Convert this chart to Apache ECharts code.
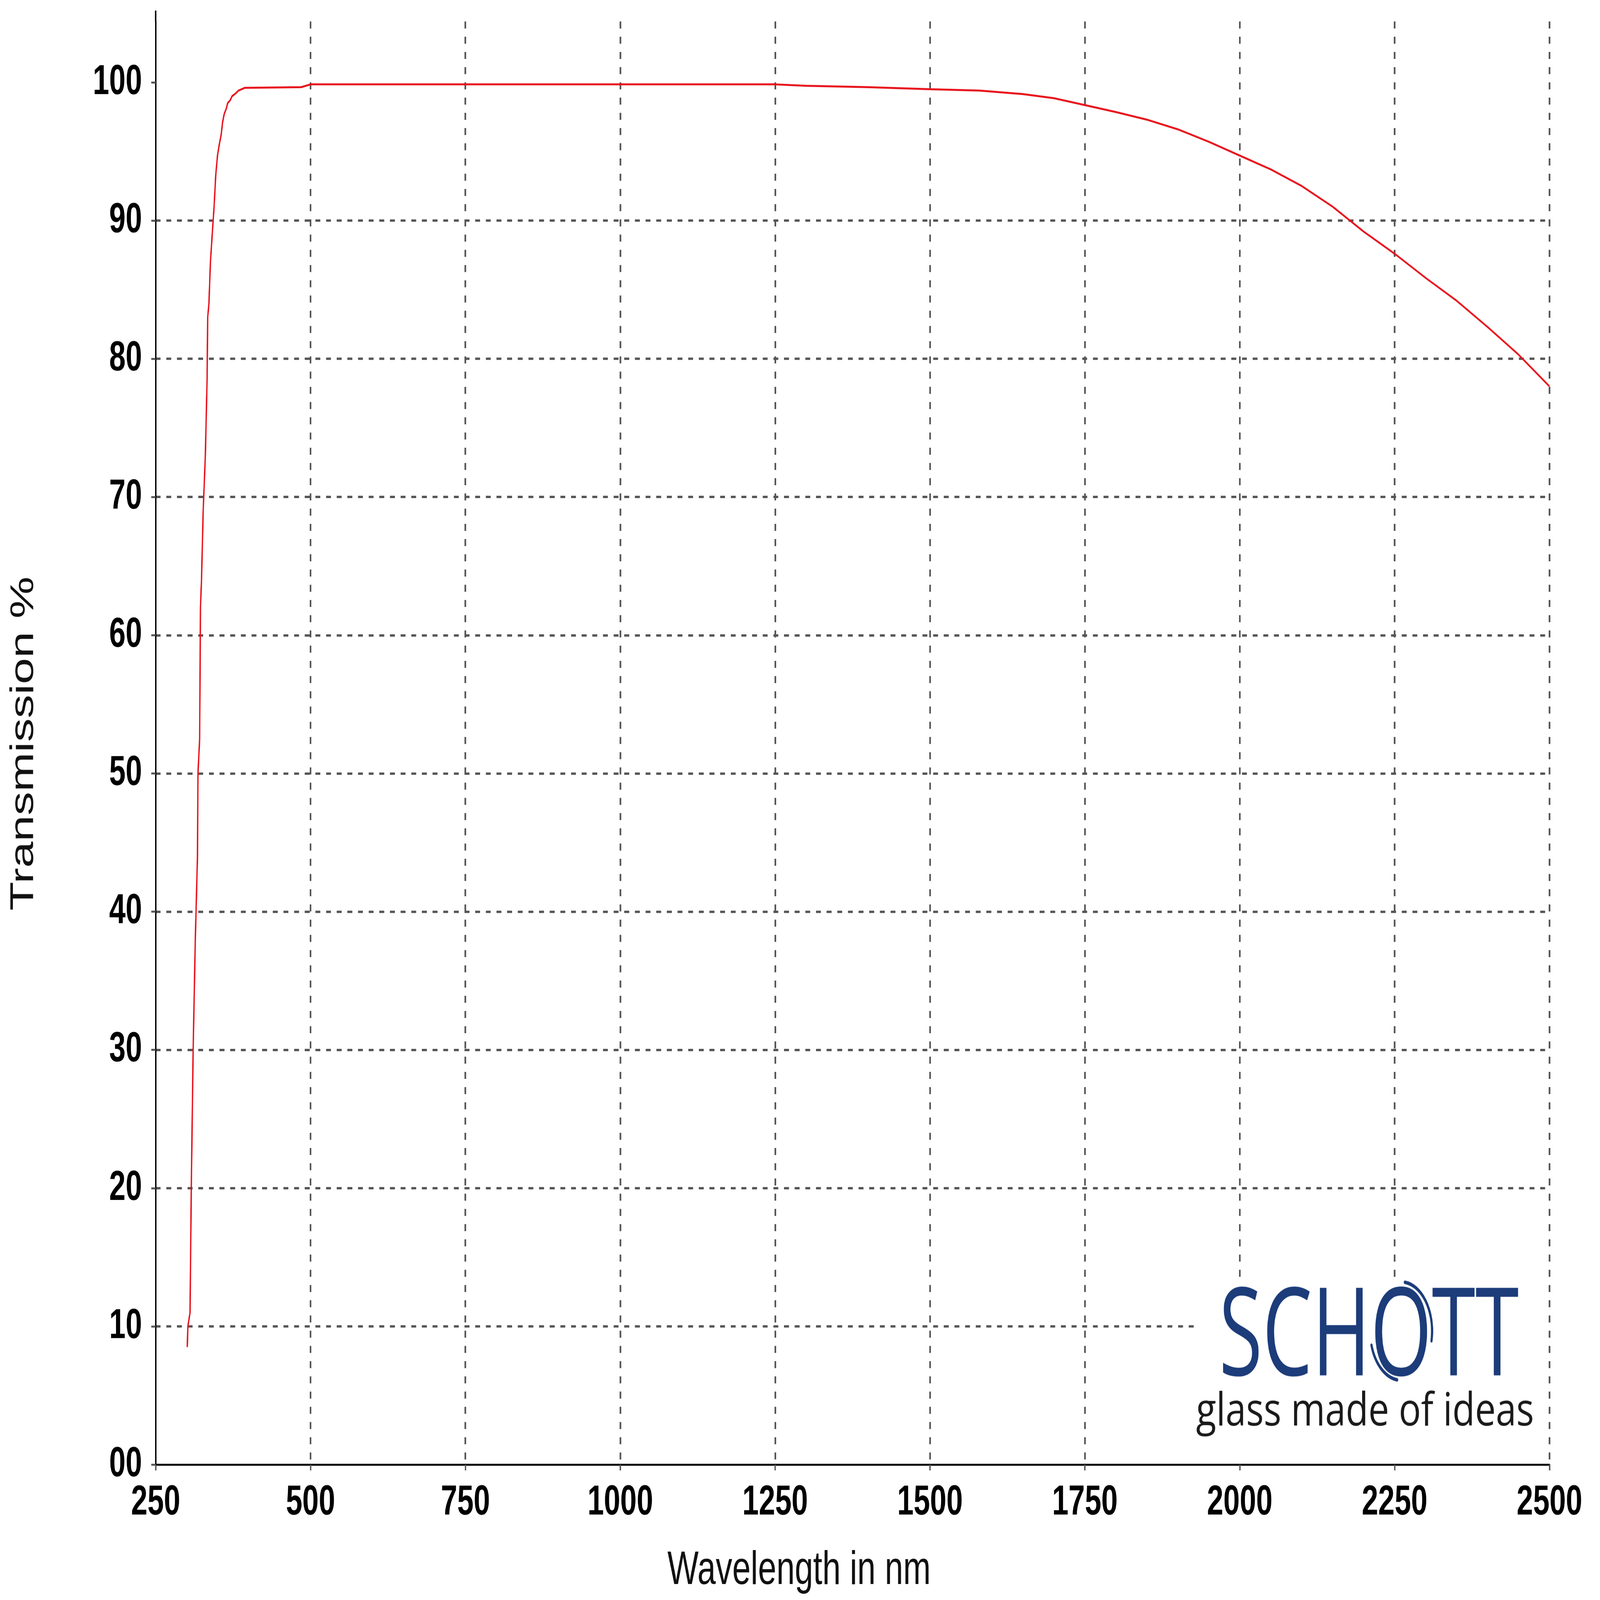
<!DOCTYPE html>
<html>
<head>
<meta charset="utf-8">
<script src="https://cdn.jsdelivr.net/npm/echarts@6/dist/echarts.min.js"></script>
<style>
html,body{margin:0;padding:0;background:#fff;overflow:hidden;}
#c{width:5859px;height:4099px;position:absolute;left:0;top:0;transform-origin:0 0;}
</style>
</head>
<body>
<div id="c"></div>
<script>
// Data
var wavelength = [301, 302, 305.5, 307.5, 310.5, 314, 317.5, 318.3, 321, 322.3, 324, 326.7, 330.2, 333, 334, 336, 338.4, 341.3, 344.3, 347, 349.8, 352.7, 355.7, 358, 360.6, 364, 366.3, 370.3, 373.4, 379.2, 383.6, 394, 485, 500, 1250, 1300, 1400, 1500, 1580, 1650, 1700, 1750, 1800, 1850, 1900, 1950, 2000, 2050, 2100, 2150, 2200, 2250, 2300, 2350, 2400, 2450, 2500];
var transmission = [8.5, 10, 11, 20, 30, 38, 44, 50, 52.5, 62, 64, 69, 73, 78.5, 83, 84, 87, 89, 91, 93.3, 94.7, 95.5, 96.2, 97.1, 97.7, 98.1, 98.5, 98.7, 99.0, 99.2, 99.4, 99.6, 99.65, 99.85, 99.85, 99.75, 99.65, 99.5, 99.4, 99.15, 98.85, 98.35, 97.85, 97.3, 96.6, 95.7, 94.7, 93.7, 92.5, 91.0, 89.2, 87.6, 85.85, 84.2, 82.3, 80.3, 78.0];
var xTicks = [250, 500, 750, 1000, 1250, 1500, 1750, 2000, 2250, 2500];
var yTicks = [0, 10, 20, 30, 40, 50, 60, 70, 80, 90, 100];
var xTitle = 'Wavelength in nm';
var yTitle = 'Transmission %';
var logoName = 'SCHOTT';
var logoTagline = 'glass made of ideas';

var seriesData = wavelength.map(function (w, i) { return [w, transmission[i]]; });
var FONT = '"Liberation Sans", Arial, sans-serif';
var LOGOFONT = '"Open Sans", sans-serif';
var NAVY = '#1c3c7a';

// The chart is laid out on a 5859x4099 page; fit it to the actual window.
var W = 5859, H = 4099;
var el = document.getElementById('c');
var sx = (window.innerWidth || W) / W, sy = (window.innerHeight || H) / H;
el.style.transform = 'scale(' + sx + ',' + sy + ')';

// width-fitting for the logo texts
var mctx = document.createElement('canvas').getContext('2d');
function textW(t, font) { mctx.font = font; return mctx.measureText(t).width || 1; }
var nameFont = '400 314px "Open Sans"';
var nameScale = 1098 / textW(logoName, nameFont);
var tagScale = 1237 / textW(logoTagline, '400 118px "Open Sans"');
var nameX = 4464, nameY = 3434;
var oCx = nameX + nameScale * (textW('SCH', nameFont) + textW('O', nameFont) / 2);
var oCy = 3410;

var chart = echarts.init(el, null, {renderer: 'canvas', width: W, height: H});
chart.setOption({
  backgroundColor: '#ffffff',
  animation: false,
  grid: {left: 570, right: 185, top: 55, bottom: 4099 - 3752, containLabel: false},
  xAxis: {
    type: 'value', min: 250, max: 2500, interval: 250,
    axisLine: {show: true, onZero: false, lineStyle: {color: '#000', width: 5}},
    axisTick: {show: true, length: 15, lineStyle: {color: '#555', width: 5}, customValues: xTicks},
    axisLabel: {show: true, margin: 44, color: '#000', fontSize: 108, fontWeight: 'bold', fontFamily: FONT, customValues: xTicks,
      formatter: function (v) { return String(v); }},
    splitLine: {show: true, showMinLine: false, lineStyle: {color: '#555', width: 6, type: [18, 21]}}
  },
  yAxis: {
    type: 'value', min: 0, max: 104.4, interval: 10,
    axisLine: {show: true, onZero: false, lineStyle: {color: '#000', width: 5},
      symbol: ['none', 'rect'], symbolSize: [5, 28], symbolOffset: [0, 14]},
    axisTick: {show: true, length: 16, lineStyle: {color: '#555', width: 5}, customValues: yTicks},
    axisLabel: {show: true, margin: 50, color: '#000', fontSize: 108, fontWeight: 'bold', fontFamily: FONT, customValues: yTicks,
      formatter: function (v) { return v === 0 ? '00' : String(v); }},
    splitLine: {show: true, showMinLine: false, showMaxLine: false, lineStyle: {color: '#555', width: 6, type: [18, 21]}}
  },
  series: [{
    type: 'line', data: seriesData, showSymbol: false, symbol: 'none', smooth: false,
    lineStyle: {color: '#e8101a', width: 5}, z: 5
  }],
  graphic: [
    {type: 'text', x: 2926, y: 4025, style: {text: xTitle, fontSize: 121, fontFamily: FONT, fill: '#111', align: 'center', verticalAlign: 'middle'}},
    {type: 'text', x: 88, y: 1905, rotation: Math.PI / 2, style: {text: yTitle, fontSize: 121, fontFamily: FONT, fill: '#111', align: 'center', verticalAlign: 'middle'}},
    {type: 'rect', shape: {x: 4380, y: 3283, width: 1280, height: 462}, style: {fill: '#fff'}, z: 10},
    {type: 'text', x: nameX, y: nameY, scaleX: nameScale, style: {text: logoName, fontSize: 314, fontFamily: LOGOFONT, fontWeight: 'normal', fill: NAVY, align: 'left', verticalAlign: 'middle'}, z: 11},
    {type: 'arc', x: oCx, y: oCy, scaleX: 0.9, shape: {cx: 0, cy: 0, r: 126, startAngle: -1.45, endAngle: 0.2}, style: {stroke: NAVY, lineWidth: 9, fill: null, lineCap: 'round'}, z: 11},
    {type: 'arc', x: oCx, y: oCy, scaleX: 0.9, shape: {cx: 0, cy: 0, r: 126, startAngle: 1.7, endAngle: 2.85}, style: {stroke: NAVY, lineWidth: 9, fill: null, lineCap: 'round'}, z: 11},
    {type: 'text', x: 4380, y: 3677, scaleX: tagScale, style: {text: logoTagline, fontSize: 118, fontFamily: LOGOFONT, fontWeight: 'normal', fill: '#1a1a1a', align: 'left', verticalAlign: 'bottom'}, z: 11}
  ]
});
</script>
</body>
</html>
